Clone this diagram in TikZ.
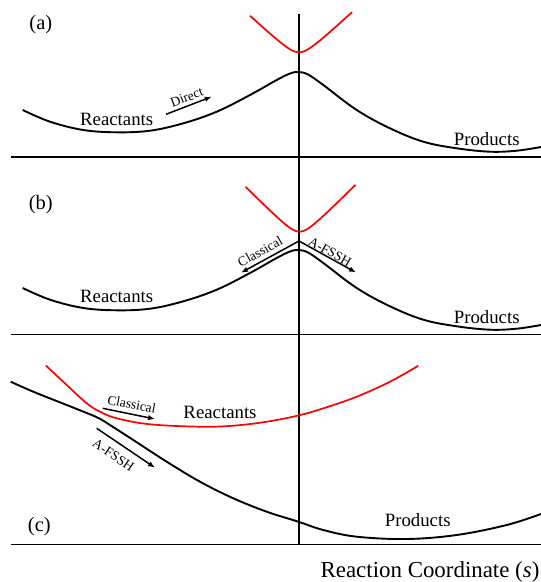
\documentclass[tikz,border=0pt]{standalone}
\usepackage{fontspec}
\setmainfont{Liberation Serif}
\usetikzlibrary{arrows.meta}
\begin{document}
\begin{tikzpicture}[x=1pt,y=-1pt,
  curve/.style={line width=1.9pt, line join=round},
  redcurve/.style={red, line width=1.7pt, line join=round},
  axisline/.style={line width=1.8pt},
  flow/.style={line width=1.5pt, -{Latex[length=7pt,width=5.5pt]}},
  lbl/.style={font=\fontsize{18.8}{22}\selectfont, inner sep=0pt},
  small/.style={font=\fontsize{13.5}{16}\selectfont, inner sep=0pt},
  panel/.style={font=\fontsize{20.5}{24}\selectfont, inner sep=0pt}]
\useasboundingbox (0,0) rectangle (541,582);

% vertical line
\coordinate (vt) at (299,14);
\coordinate (vb) at (299,545);
\draw[axisline] (vt) -- (vb);

% axes
\coordinate (axA0) at (11,156.7); \coordinate (axA1) at (541,156.7);
\coordinate (axB0) at (11,334.5); \coordinate (axB1) at (541,334.5);
\coordinate (axC0) at (11,544.5); \coordinate (axC1) at (541,544.5);
\draw[axisline] (axA0) -- (axA1);
\draw[axisline] (axB0) -- (axB1);
\draw[axisline] (axC0) -- (axC1);

% ---------------- panel (a)
\draw[curve] plot[smooth, tension=0.6] coordinates {(22.7,110) (50,121.7) (83.3,130) (116.7,132.3) (150,130.7) (183.3,123.3) (216.7,111.7) (250,95) (276.7,80) (290,73.5) (298.5,72) (308,74.5) (323.3,85) (356.7,110) (390,128.3) (423.3,141.7) (456.7,148.3) (490,151.7) (516.7,150.7) (541,147)};
\draw[redcurve] plot[domain=-49:53, samples=60] ({299+\x},{52.3-sqrt(100+0.86*(\x)^2)+10});
\node[panel] (la) at (40.8,25) {(a)};
\node[lbl] (ra) at (116.7,119.3) {Reactants};
\node[lbl] (pa) at (486.7,139) {Products};
\coordinate (da0) at (166,114.3);
\coordinate (da1) at (211.7,96.7);
\draw[flow] (da0) -- (da1);
\node[small, rotate=21] (dl) at (186.7,97.3) {Direct};

% ---------------- panel (b)
\begin{scope}[shift={(0,178)}]
\draw[curve] plot[smooth, tension=0.6] coordinates {(22.7,110) (50,121.7) (83.3,130) (116.7,132.3) (150,130.7) (183.3,123.3) (216.7,111.7) (250,95) (276.7,80) (290,73.5) (298.5,72) (308,74.5) (323.3,85) (356.7,110) (390,128.3) (423.3,141.7) (456.7,148.3) (490,151.7) (516.7,150.7) (541,147)};
\end{scope}
\draw[redcurve] plot[domain=-54:56, samples=60] ({299.5+\x},{231.7-sqrt(100+1.0*(\x)^2)+10});
\node[panel] (lb) at (40.8,204.3) {(b)};
\node[lbl] (rb) at (116.7,296.7) {Reactants};
\node[lbl] (pb) at (486.7,317.5) {Products};
\coordinate (apex) at (299,241);
\coordinate (cb1) at (241,272.7);
\coordinate (fb1) at (356,272.5);
\draw[flow] (apex) -- (cb1);
\draw[flow] (apex) -- (fb1);
\node[small, rotate=29] (clb) at (260,251.5) {Classical};
\node[small, rotate=-29] (flb) at (330,251.7) {A-FSSH};

% ---------------- panel (c)
\draw[redcurve] plot[smooth, tension=0.6] coordinates {(46,365.7) (66.7,385) (86.7,403.3) (100,411.7) (116.7,418.3) (150,424.3) (200,426.7) (233.3,425.7) (266.7,421.7) (298.3,415.5) (323.3,408.3) (356.7,396.7) (390,381.7) (418.3,365.7)};
\draw[curve] plot[smooth, tension=0.6] coordinates {(10.7,381.7) (33.3,391.7) (66.7,405) (90,414.3) (100,418.8) (110,425) (133.3,440) (166.7,461.7) (200,481.7) (233.3,498.3) (266.7,511.7) (298.3,521.7) (323.3,530) (356.7,536.7) (406.7,539) (456.7,535) (506.7,525) (541,514)};
\node[panel] (lc) at (39.3,526.7) {(c)};
\node[lbl] (rc) at (220,412.3) {Reactants};
\node[lbl] (pc) at (417.7,520) {Products};
\coordinate (cc0) at (102.7,408.3);
\coordinate (cc1) at (155,419);
\draw[flow] (cc0) -- (cc1);
\node[small, rotate=-11] (clc) at (131.7,404.3) {Classical};
\coordinate (fc0) at (96.7,428.3);
\coordinate (fc1) at (155,467.7);
\draw[flow] (fc0) -- (fc1);
\node[small, rotate=-34] (flc) at (113.3,455) {A-FSSH};

\node[font=\fontsize{22.9}{26}\selectfont, inner sep=0pt] (xl) at (430,571.7) {Reaction Coordinate (\textit{s})};
\end{tikzpicture}
\end{document}
